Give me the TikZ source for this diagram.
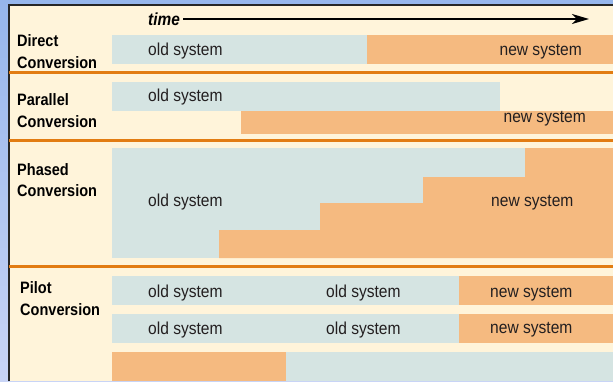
\documentclass[tikz,border=0pt]{standalone}
\usepackage{fontspec}
\usetikzlibrary{arrows.meta}
\newfontfamily\barfont{Liberation Sans}[FakeStretch=0.9]
\newfontfamily\headfont{Liberation Sans}[FakeStretch=0.88]
\definecolor{cream}{RGB}{255,244,218}
\definecolor{oldsys}{RGB}{213,228,226}
\definecolor{newsys}{RGB}{245,186,128}
\definecolor{rulecol}{RGB}{226,124,18}
\definecolor{edgetop}{RGB}{150,182,236}
\definecolor{edgebot}{RGB}{200,212,246}
\definecolor{ink}{RGB}{35,31,32}
\tikzset{
  systxt/.style={inner sep=0pt,text=ink,font=\barfont\fontsize{17.3}{19}\selectfont},
  headtxt/.style={inner sep=0pt,anchor=base west,font=\headfont\bfseries\fontsize{16.5}{19}\selectfont},
  seprule/.style={rulecol,line width=3pt}
}
\begin{document}
\begin{tikzpicture}[x=1pt,y=-1pt]
\useasboundingbox (0,0) rectangle (613,381);
\shade[top color=edgetop,bottom color=edgebot] (0,0) rectangle (613,381);
\fill[cream] (9,5) rectangle (613,381);
\draw[line width=1.5pt,black!85] (9,381) -- (9,5) -- (613,5);
% time axis
\node[headtxt,font=\headfont\bfseries\itshape\fontsize{17.5}{19}\selectfont] (time) at (148,25) {time};
\coordinate (tend) at (589,19);
\draw[line width=1.4pt,-{Stealth[length=17pt,width=10pt,inset=5pt]}] (time.east|-tend) ++(3,0) -- (tend);
% direct
\fill[oldsys] (112,35) rectangle (367,64);
\fill[newsys] (367,35) rectangle (613,64);
\node[headtxt] (dir1) at (17,46.7) {Direct};
\node[headtxt] (dir2) at (17,68) {Conversion};
\node[systxt,anchor=west] (dirold) at (148,51.5) {old system};
\node[systxt,anchor=east] (dirnew) at (582,51.5) {new system};
\draw[seprule] (9,72.3) -- (613,72.3);
% parallel
\fill[oldsys] (112,82) rectangle (500,110.5);
\fill[newsys] (241,110.5) rectangle (613,134);
\node[headtxt] (par1) at (17,105) {Parallel};
\node[headtxt] (par2) at (17,127) {Conversion};
\node[systxt,anchor=west] (parold) at (148,97) {old system};
\node[systxt,anchor=east] (parnew) at (586,119) {new system};
\draw[seprule] (9,140) -- (613,140);
% phased
\fill[oldsys] (112,148) rectangle (613,258);
\fill[newsys] (219,258) |- (320,230) |- (423,203) |- (525,177) |- (613,148) -- (613,258) -- cycle;
\node[headtxt] (pha1) at (17,175) {Phased};
\node[headtxt] (pha2) at (17,196) {Conversion};
\node[systxt,anchor=west] (phaold) at (148,202.5) {old system};
\node[systxt,anchor=west] (phanew) at (491,202.5) {new system};
\draw[seprule] (9,266.6) -- (613,266.6);
% pilot
\fill[oldsys] (112,276) rectangle (459,305);
\fill[newsys] (459,276) rectangle (613,305);
\fill[oldsys] (112,314) rectangle (459,343);
\fill[newsys] (459,314) rectangle (613,343);
\fill[newsys] (112,352) rectangle (286,381);
\fill[oldsys] (286,352) rectangle (613,381);
\node[headtxt] (pil1) at (20,293) {Pilot};
\node[headtxt] (pil2) at (20,315) {Conversion};
\node[systxt,anchor=west] (pilolda) at (148,293.5) {old system};
\node[systxt,anchor=west] (piloldb) at (326,293.5) {old system};
\node[systxt,anchor=west] (pilnew) at (490,293.5) {new system};
\node[systxt,anchor=west] (pilolda2) at (148,330) {old system};
\node[systxt,anchor=west] (piloldb2) at (326,330) {old system};
\node[systxt,anchor=west] (pilnew2) at (490,330) {new system};
\end{tikzpicture}
\end{document}
